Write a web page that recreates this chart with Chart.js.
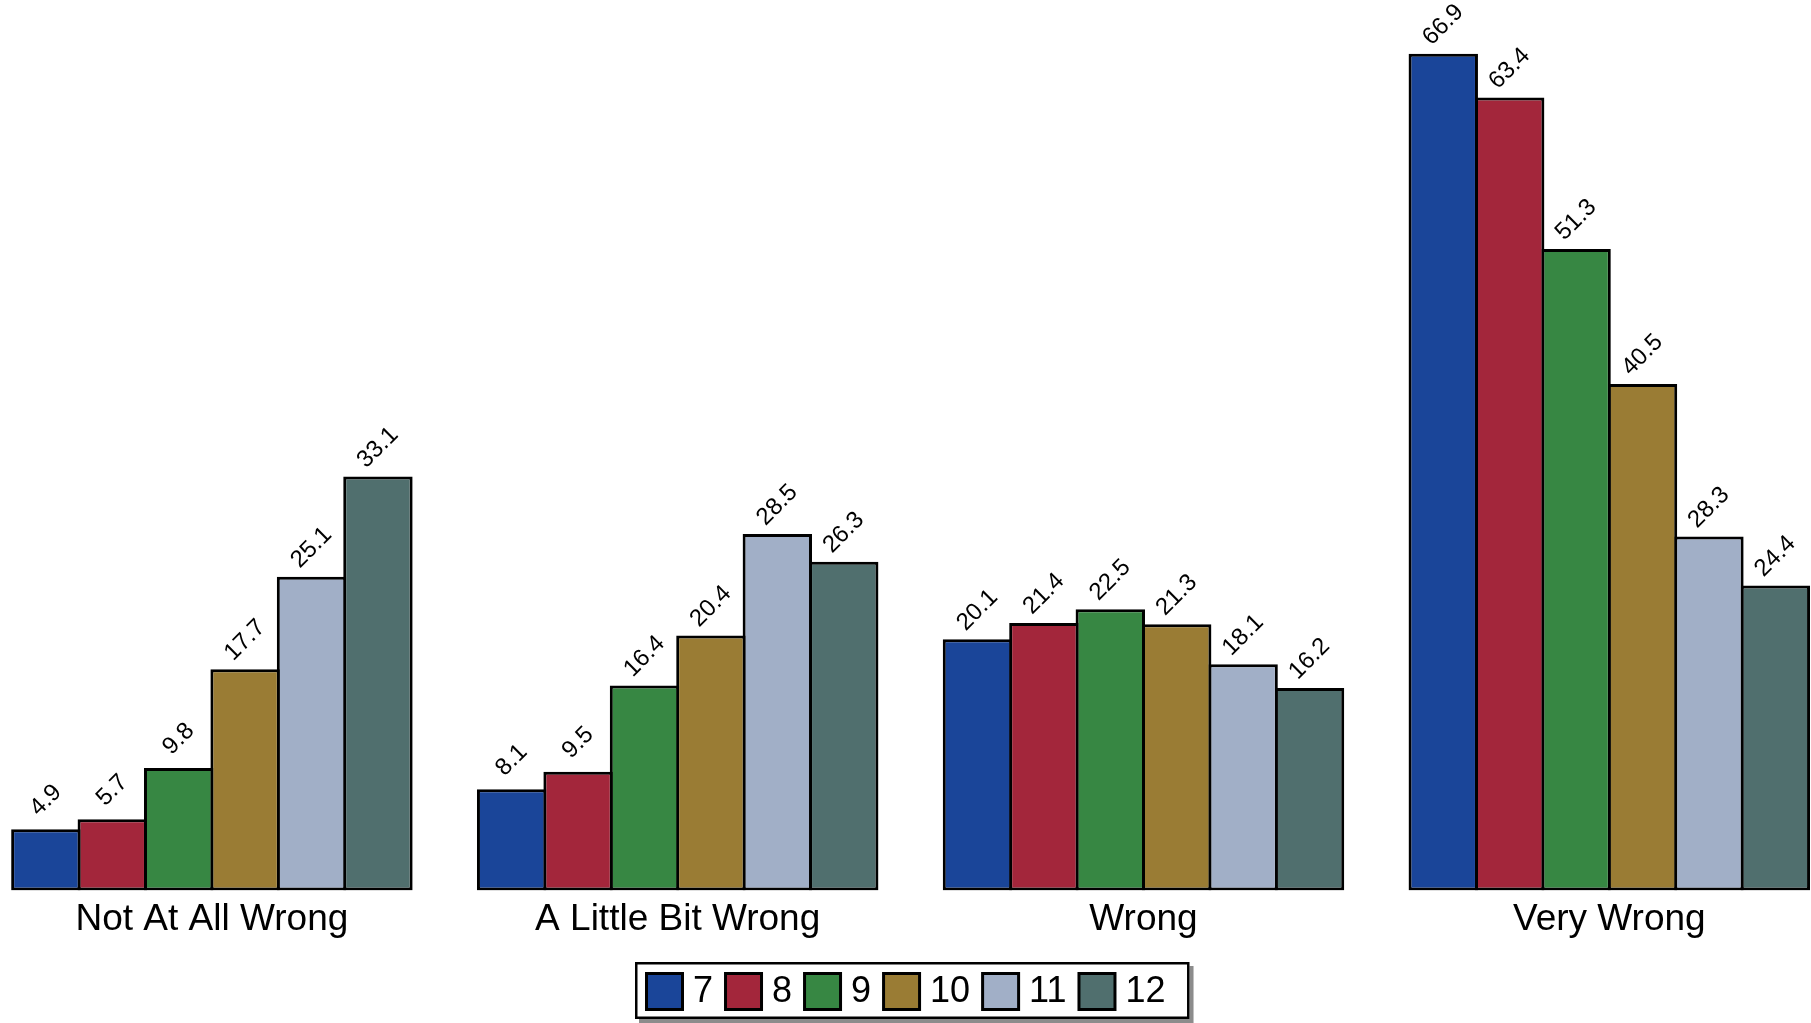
<!DOCTYPE html>
<html>
<head>
<meta charset="utf-8">
<script src="https://cdn.jsdelivr.net/npm/chart.js@4.4.1/dist/chart.umd.min.js"></script>
<style>
  html, body { margin: 0; padding: 0; background: #fff; }
  #wrap { width: 1811px; height: 1023px; }
</style>
</head>
<body>
<div id="wrap"><canvas id="gradeChart" width="1811" height="1023"></canvas></div>
<script>
// categories on the x axis
const categories = ["Not At All Wrong", "A Little Bit Wrong", "Wrong", "Very Wrong"];
// grade series (legend labels)
const grades = ["7", "8", "9", "10", "11", "12"];
const gradeColors = ["#1a4599", "#a3263b", "#378743", "#9a7c34", "#a1afc7", "#506f6e"];
// percentages per grade, in category order
const grade7 = [4.9, 8.1, 20.1, 66.9];
const grade8 = [5.7, 9.5, 21.4, 63.4];
const grade9 = [9.8, 16.4, 22.5, 51.3];
const grade10 = [17.7, 20.4, 21.3, 40.5];
const grade11 = [25.1, 28.5, 18.1, 28.3];
const grade12 = [33.1, 26.3, 16.2, 24.4];
const seriesValues = [grade7, grade8, grade9, grade10, grade11, grade12];

const FONT = '"Liberation Sans", Arial, Helvetica, sans-serif';
Chart.defaults.font.family = FONT;
Chart.defaults.color = "#000";

// rotated value labels above each bar
const barLabels = {
  id: "barLabels",
  afterDatasetsDraw(chart) {
    const ctx = chart.ctx;
    ctx.save();
    ctx.font = "24px " + FONT;
    ctx.fillStyle = "#000";
    ctx.textAlign = "center";
    ctx.textBaseline = "middle";
    chart.data.datasets.forEach((ds, di) => {
      const meta = chart.getDatasetMeta(di);
      meta.data.forEach((bar, i) => {
        ctx.save();
        ctx.translate(bar.x, bar.y - 29);
        ctx.rotate(-Math.PI / 4);
        ctx.fillText(ds.data[i].y.toFixed(1), 0, 0);
        ctx.restore();
      });
    });
    ctx.restore();
  }
};

// boxed legend with a drop shadow, drawn under the axis labels
const boxedLegend = {
  id: "boxedLegend",
  afterDraw(chart) {
    const ctx = chart.ctx;
    ctx.save();
    ctx.font = "36px " + FONT;
    const sw = 39;
    let total = 10 + 13;
    const widths = chart.data.datasets.map(ds => ctx.measureText(ds.label).width);
    widths.forEach(w => { total += sw + 9 + w + 11; });
    const left = Math.round(chart.width / 2 - total / 2 + 7);
    const top = 962, h = 57;

    ctx.fillStyle = "#8c8c8c";
    ctx.fillRect(left + 4, top + 4, total, h);
    ctx.fillStyle = "#fff";
    ctx.fillRect(left, top, total, h);
    ctx.lineWidth = 2.5;
    ctx.strokeStyle = "#000";
    ctx.strokeRect(left + 1.25, top + 1.25, total - 2.5, h - 2.5);

    let x = left + 10;
    chart.data.datasets.forEach((ds, i) => {
      ctx.fillStyle = ds.backgroundColor;
      ctx.fillRect(x + 1.5, 972 + 1.5, sw - 3, sw - 3);
      ctx.lineWidth = 3;
      ctx.strokeRect(x + 1.5, 972 + 1.5, sw - 3, sw - 3);
      ctx.fillStyle = "#000";
      ctx.textBaseline = "alphabetic";
      ctx.fillText(ds.label, x + sw + 9, 1002);
      x += sw + 9 + widths[i] + 11;
    });
    ctx.restore();
  }
};

const datasets = grades.map((g, gi) => ({
  label: g,
  data: seriesValues[gi].map((v, ci) => ({ x: ci, y: v })),
  backgroundColor: gradeColors[gi],
  borderColor: "#000",
  borderWidth: 3,
  borderSkipped: false,
  categoryPercentage: 0.8555,
  barPercentage: 1.045
}));

new Chart(document.getElementById("gradeChart"), {
  type: "bar",
  data: { datasets },
  options: {
    responsive: false,
    animation: false,
    devicePixelRatio: 1,
    layout: { padding: { left: 0, right: 0, top: 0, bottom: 74 } },
    plugins: {
      legend: { display: false },
      tooltip: { enabled: false }
    },
    scales: {
      x: {
        type: "linear",
        offset: false,
        min: -0.4549,
        max: 3.433,
        afterBuildTicks: axis => {
          axis.ticks = categories.map((c, i) => ({ value: i }));
        },
        grid: { display: false, drawTicks: false, offset: false },
        border: { display: false },
        ticks: {
          font: { size: 37 },
          color: "#000",
          padding: 7,
          maxRotation: 0,
          autoSkip: false,
          callback: v => categories[v]
        }
      },
      y: {
        display: false,
        min: 0,
        max: 71.2
      }
    }
  },
  plugins: [barLabels, boxedLegend]
});
</script>
</body>
</html>
